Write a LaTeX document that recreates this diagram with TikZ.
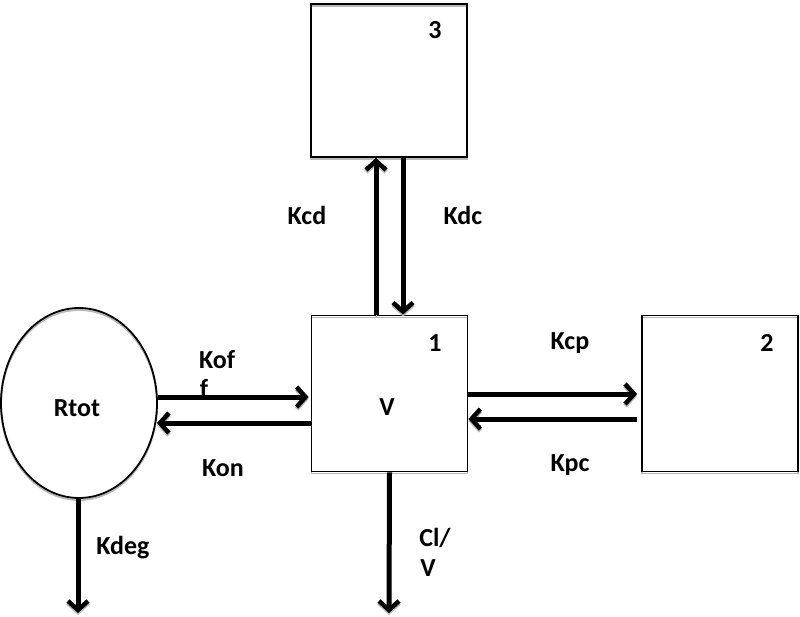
\documentclass[tikz,border=0pt]{standalone}
\usepackage{fontspec}
\setmainfont{Carlito}
\usetikzlibrary{shapes.geometric,arrows.meta}
\tikzset{
  shadowed/.style={preaction={draw=gray!55, transform canvas={yshift=-2pt}}},
  compbox/.style={draw, line width=1.8pt, minimum width=156pt, minimum height=156pt, inner sep=0pt, shadowed},
  compell/.style={ellipse, draw, line width=1.8pt, minimum width=156pt, minimum height=190pt, inner sep=0pt, shadowed},
  flow/.style={line width=5pt, -{Straight Barb[length=9pt,width=20pt,line width=4.5pt]}, shadowed},
  lbl/.style={font=\fontsize{26}{30}\selectfont\bfseries, inner sep=0pt}
}
\begin{document}
\begin{tikzpicture}[x=1pt,y=-1pt]
\useasboundingbox (0,0) rectangle (800,617);
\node[compbox] (b1) at (389.5,393.5) {};
\node[compbox] (b2) at (720,393.5) {};
\node[compbox, minimum height=153pt] (b3) at (389,80.5) {};
\node[compell] (R) at (79,403) {};
\coordinate (clend) at (389,613);
\coordinate (degend) at (78,613);
% labels
\node[lbl] (n1) at (435,343) {1};
\node[lbl] (n2) at (767,343) {2};
\node[lbl] (n3) at (435,30) {3};
\node[lbl] (nv) at (387,407) {V};
\node[lbl] (nr) at (77,408) {Rtot};
\node[lbl] (kcd) at (307,215) {Kcd};
\node[lbl] (kdc) at (463,215) {Kdc};
\node[lbl] (kof) at (217,360) {Kof};
\node[lbl] (kof2) at (204,388) {f};
\node[lbl] (kon) at (223,468) {Kon};
\node[lbl] (kcp) at (570,343) {Kcp};
\node[lbl] (kpc) at (570,465) {Kpc};
\node[lbl] (cl1) at (435,538) {Cl/};
\node[lbl] (cl2) at (428,568) {V};
\node[lbl] (kdeg) at (123,548) {Kdeg};
% connectors
\draw[flow] ([xshift=-13.5pt]b1.north) -- ([xshift=-13pt]b3.south);
\draw[flow] ([xshift=14pt]b3.south) -- ([xshift=13.5pt]b1.north);
\draw[flow] ([yshift=6pt]R.east) -- ([yshift=-3.5pt,xshift=-2pt]b1.west);
\draw[flow] ([yshift=-29.5pt]b1.west) -- ([yshift=-20pt,xshift=-1pt]R.east);
\draw[flow] ([yshift=-0.5pt]b1.east) -- ([yshift=-0.5pt,xshift=-4pt]b2.west);
\draw[flow] ([yshift=-25.5pt,xshift=-4pt]b2.west) -- ([yshift=-25.5pt]b1.east);
\draw[flow] (b1.south) -- (clend);
\draw[flow] (R.south -| degend) -- (degend);
\end{tikzpicture}
\end{document}
